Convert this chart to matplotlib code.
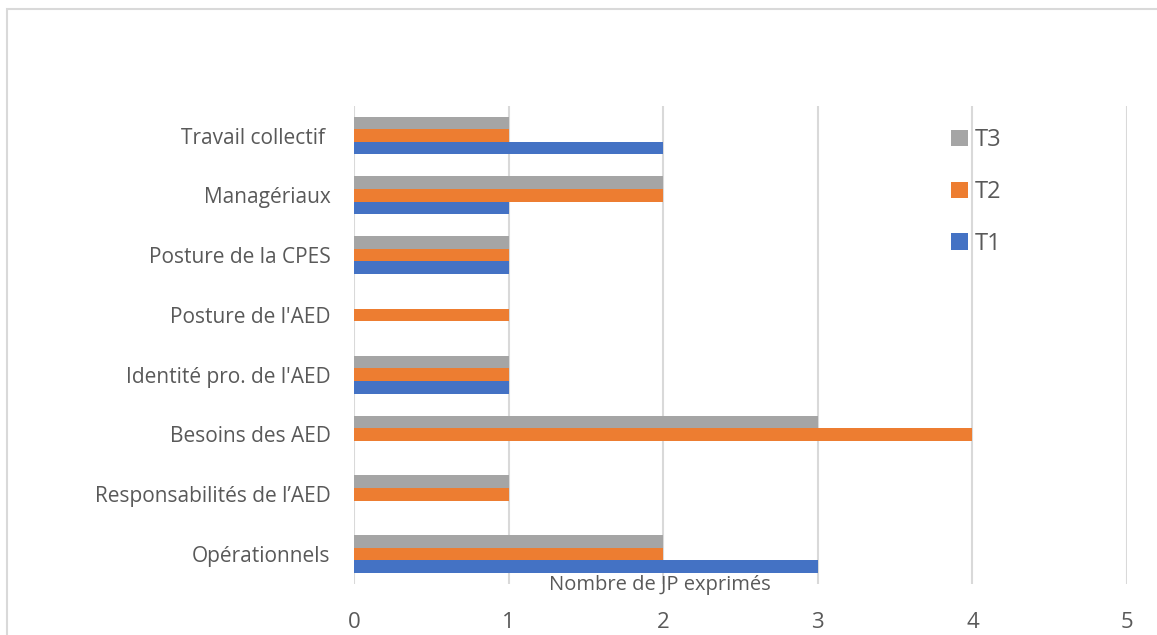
import numpy as np
import matplotlib.pyplot as plt
from matplotlib.patches import Rectangle

# categories from bottom to top
categories = ["Opérationnels", "Responsabilités de l\u2019AED", "Besoins des AED",
              "Identité pro. de l'AED", "Posture de l'AED", "Posture de la CPES",
              "Managériaux", "Travail collectif "]
t1 = [3, 0, 0, 1, 0, 1, 1, 2]
t2 = [2, 1, 4, 1, 1, 1, 2, 1]
t3 = [2, 1, 3, 1, 0, 1, 2, 1]
xticks = [0, 1, 2, 3, 4, 5]

plt.rcParams['font.family'] = ['Open Sans', 'DejaVu Sans']
txt = '#595959'

fig = plt.figure(figsize=(11.57, 6.35), dpi=100)
ax = fig.add_axes([354/1157, 1-584/635, (1127-354)/1157, (584-105.6)/635])

y = np.arange(len(categories))
h = 0.21
ax.barh(y - h, t1, height=h, color='#4472C4', label='T1', zorder=3)
ax.barh(y, t2, height=h, color='#ED7D31', label='T2', zorder=3)
ax.barh(y + h, t3, height=h, color='#A5A5A5', label='T3', zorder=3)

ax.set_xlim(0, 5)
ax.set_ylim(-0.5, len(categories) - 0.5)
ax.set_xticks(xticks)
ax.set_yticks(y)
ax.set_yticklabels(categories, fontsize=15, color=txt)
ax.tick_params(axis='y', length=0, pad=17)
ax.tick_params(axis='x', length=0, pad=20, labelsize=16, labelcolor=txt)
ax.xaxis.grid(True, color='#d9d9d9', linewidth=1.5, zorder=0)
for s in ax.spines.values():
    s.set_visible(False)

fig.text(660/1157, 1-585/635, "Nombre de JP exprimés", fontsize=14.5, color=txt,
         ha='center', va='center')

handles, labels = ax.get_legend_handles_labels()
leg = fig.legend(handles[::-1], labels[::-1], loc='upper left',
                 bbox_to_anchor=(942/1157, 1-119/635), frameon=False, borderaxespad=0,
                 fontsize=17, labelcolor=txt, handlelength=0.7, handleheight=0.7,
                 handletextpad=0.3, labelspacing=1.17)

fig.patches.append(Rectangle((7/1157, -0.2), 1.2, 1.2 - 9/635,
                             transform=fig.transFigure, fill=False,
                             edgecolor='#d9d9d9', linewidth=1.5))

fig.savefig("out.png", dpi=100)
